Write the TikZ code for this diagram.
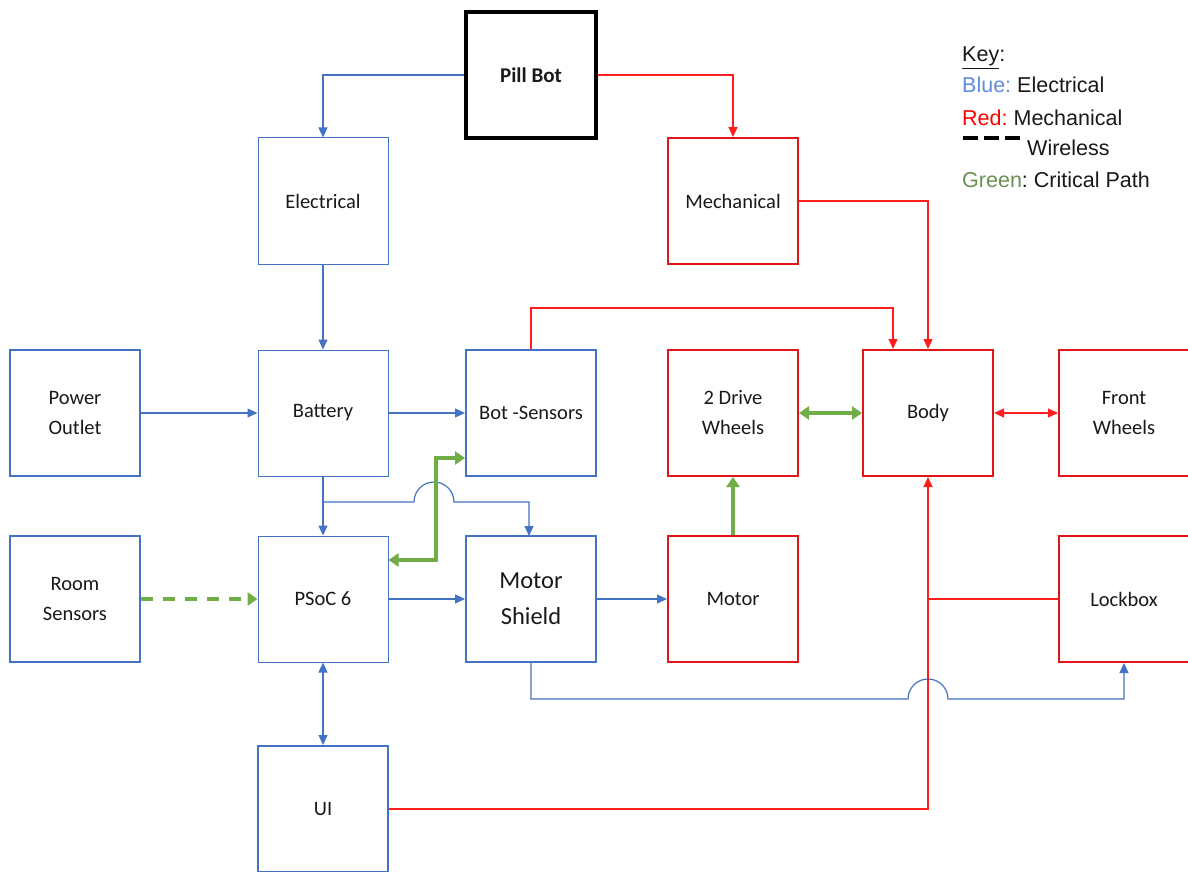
\documentclass[tikz,border=0pt]{standalone}
\usepackage{fontspec}
\setmainfont{Carlito}
\newfontfamily\keyfont{Liberation Sans}
\usetikzlibrary{arrows.meta}
\definecolor{eblue}{RGB}{68,114,196}
\definecolor{mred}{RGB}{225,20,25}
\definecolor{lred}{RGB}{255,30,30}
\definecolor{cgreen}{RGB}{112,173,71}
\definecolor{kblue}{RGB}{95,140,220}
\definecolor{kgreen}{RGB}{105,145,80}
\definecolor{txt}{RGB}{25,25,25}
\frenchspacing
\begin{document}
\begin{tikzpicture}[x=1pt,y=-1pt,
  box/.style={draw, minimum width=130pt, minimum height=126pt, align=center, inner sep=0pt,
    text=txt, font=\fontsize{20.5}{30}\selectfont},
  bboxa/.style={box, draw=eblue, line width=1pt},
  bboxb/.style={box, draw=eblue, line width=2pt},
  rbox/.style={box, draw=mred, line width=2pt},
  elec/.style={draw=eblue, line width=1.2pt, -{Triangle[length=10pt,width=9pt]}},
  elecboth/.style={draw=eblue, line width=1.2pt, {Triangle[length=10pt,width=9pt]}-{Triangle[length=10pt,width=9pt]}},
  mech/.style={draw=lred, line width=1.2pt, -{Triangle[length=10pt,width=9pt]}},
  mechboth/.style={draw=lred, line width=1.2pt, {Triangle[length=10pt,width=9pt]}-{Triangle[length=10pt,width=9pt]}},
  mechline/.style={draw=lred, line width=1.2pt},
  crit/.style={draw=cgreen, line width=4pt, -{Triangle[length=10pt,width=13pt]}},
  critboth/.style={draw=cgreen, line width=4pt, line join=miter, {Triangle[length=10pt,width=13pt]}-{Triangle[length=10pt,width=13pt]}},
  critdash/.style={draw=cgreen, line width=4pt, dash pattern=on 12pt off 10pt, -{Triangle[length=10pt,width=13pt]}},
  keytext/.style={anchor=base west, inner sep=0pt, font=\keyfont\fontsize{21.5}{24}\selectfont, text=txt}
]
\useasboundingbox (0,0) rectangle (1188,872);

% nodes
\node[box, draw=black, line width=4pt, font=\bfseries\fontsize{21}{26}\selectfont] (pill) at (531,75) {Pill Bot};
\node[bboxa] (elec) at (323,201) {Electrical};
\node[rbox] (mechn) at (733,201) {Mechanical};
\node[bboxb] (power) at (75,413) {Power\\Outlet};
\node[bboxa] (batt) at (323,413) {Battery};
\node[bboxb] (bots) at (531,413) {Bot -Sensors};
\node[rbox] (dw) at (733,413) {2 Drive\\Wheels};
\node[rbox] (body) at (928,413) {Body};
\node[rbox] (fw) at (1124,413) {Front\\Wheels};
\node[bboxb] (room) at (75,599) {Room\\Sensors};
\node[bboxa] (psoc) at (323,599) {PSoC 6};
\node[bboxb, font=\fontsize{24.5}{36}\selectfont] (ms) at (531,599) {Motor\\Shield};
\node[rbox] (motor) at (733,599) {Motor};
\node[rbox] (lock) at (1124,599) {Lockbox};
\node[bboxb] (ui) at (323,809) {UI};

% electrical connectors
\draw[elec] (pill.west) -| (elec.north);
\draw[elec] (elec) -- (batt);
\draw[elec] (power) -- (batt);
\draw[elec] (batt) -- (bots);
\draw[elec] (batt) -- (psoc);
\coordinate (j1) at (batt.south |- 0,502);
\draw[elec] (j1) -- (414,502) arc[start angle=180, end angle=360, radius=20] -- (529,502) -- (529,536);
\draw[elec] (psoc) -- (ms);
\draw[elec] (ms) -- (motor);
\draw[elecboth] (psoc) -- (ui);
\draw[elec] (ms.south) -- (531,699) -- (908,699) arc[start angle=180, end angle=360, radius=20] -- (1124,699) -- (lock.south);

% mechanical connectors
\draw[mech] (pill.east) -| (mechn.north);
\draw[mech] (mechn.east) -| (body.north);
\draw[mech] (bots.north) -- (531,308) -| ([xshift=-35pt]body.north);
\draw[mechboth] (body) -- (fw);
\draw[mechline] (lock.west) -- (lock.west -| body.south);
\draw[mech] (ui.east) -| (body.south);

% critical path
\draw[critboth] ([yshift=39pt]psoc.east) -- (436,560) -- (436,458) -- ([yshift=-45pt]bots.west);
\draw[critdash] (room) -- (psoc);
\draw[crit] (motor) -- (dw);
\draw[critboth] (dw) -- (body);

% key
\node[keytext] (k0) at (962,62) {\underline{Key}:};
\node[keytext] (k1) at (962,93) {\textcolor{kblue}{Blue:} Electrical};
\node[keytext] (k2) at (962,125) {\textcolor{red}{Red:} Mechanical};
\coordinate (kd1) at (963,138);
\coordinate (kd2) at (1020,138);
\draw[black, line width=3.5pt, dash pattern=on 15pt off 6pt] (kd1) -- (kd2);
\node[keytext] (k3) at (1027,155) {Wireless};
\node[keytext] (k4) at (962,187) {\textcolor{kgreen}{Green}: Critical Path};
\end{tikzpicture}
\end{document}
